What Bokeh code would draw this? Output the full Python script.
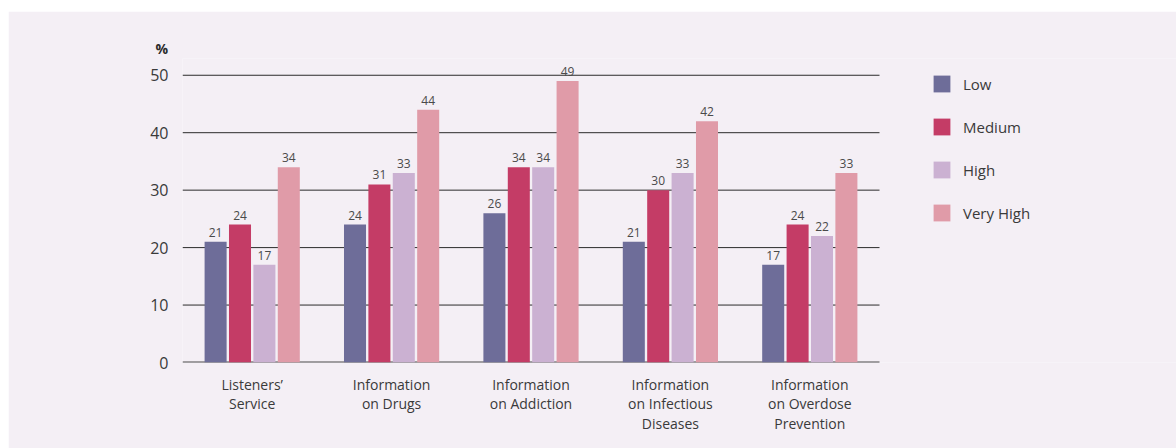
from bokeh.plotting import figure
from bokeh.models import (ColumnDataSource, Range1d, FixedTicker, Legend,
                          LegendItem, LabelSet)
from bokeh.core.properties import value
from bokeh.embed import file_html
from bokeh.resources import INLINE

# Services and the share of respondents (%) by level
categories = ["Listeners’\nService", "Information\non Drugs", "Information\non Addiction",
              "Information\non Infectious\nDiseases", "Information\non Overdose\nPrevention"]
levels = ["Low", "Medium", "High", "Very High"]
low = [21, 24, 26, 21, 17]
medium = [24, 31, 34, 30, 24]
high = [17, 33, 34, 33, 22]
very_high = [34, 44, 49, 42, 33]
y_ticks = [0, 10, 20, 30, 40, 50]

series = [low, medium, high, very_high]
colors = ["#6e6d99", "#c43c66", "#cbb1d2", "#e09ba8"]
offsets = [-0.2625, -0.0875, 0.0875, 0.2625]
bar_w = 0.158

FONT = "Open Sans"
BG = "#f4eff5"
TXT = "#3a3a3a"

n = len(categories)
px_per_cat = 139.4
frame_w = 994
frame_h = 304
px_per_unit = 5.745

p = figure(frame_width=frame_w, frame_height=frame_h,
           min_border_left=174, min_border_right=0,
           min_border_top=47, min_border_bottom=86,
           x_range=Range1d(0, frame_w / px_per_cat),
           y_range=Range1d(0, frame_h / px_per_unit),
           output_backend="svg", toolbar_location=None,
           background_fill_color=BG, border_fill_color=BG,
           outline_line_color=None, margin=(11, 0, 0, 8),
           title="%")

# "%" unit marker above the value axis
p.title.align = "left"
p.title.offset = -27
p.title.standoff = 2
p.title.text_font = FONT
p.title.text_font_size = "14px"
p.title.text_font_style = "bold"
p.title.text_color = "#2b2b2b"

# horizontal rules across the category area only
grid_y = [t for t in y_ticks if t > 0]
p.segment(x0=[0] * len(grid_y), x1=[n] * len(grid_y), y0=grid_y, y1=grid_y,
          line_color="#2b2b2b", line_width=1)
p.segment(x0=[0], x1=[n], y0=[0], y1=[0], line_color="#4a4a4a", line_width=2)

centers = [i + 0.5 for i in range(n)]
items = []
for name, vals, col, off in zip(levels, series, colors, offsets):
    src = ColumnDataSource(dict(x=[c + off for c in centers], top=vals,
                                lab=[str(v) for v in vals]))
    r = p.vbar(x="x", top="top", bottom=0, width=bar_w, source=src,
               fill_color=col, line_color=None)
    p.add_layout(LabelSet(x="x", y="top", text="lab", source=src,
                          text_align="center", text_baseline="alphabetic",
                          y_offset=5, text_font=value(FONT),
                          text_font_size=value("12px"),
                          text_color=value("#4a4a4a")))
    items.append(LegendItem(label=name, renderers=[r]))

# axes
p.xaxis.ticker = FixedTicker(ticks=centers)
p.xaxis.major_label_overrides = {c: lab for c, lab in zip(centers, categories)}
p.xaxis.major_tick_line_color = None
p.xaxis.minor_tick_line_color = None
p.xaxis.axis_line_color = None
p.xaxis.major_label_text_font = FONT
p.xaxis.major_label_text_font_size = "14px"
p.xaxis.major_label_text_color = TXT
p.xaxis.major_label_text_line_height = 1.03
p.xaxis.major_label_standoff = 6

p.yaxis.ticker = FixedTicker(ticks=y_ticks)
p.yaxis.major_tick_line_color = None
p.yaxis.minor_tick_line_color = None
p.yaxis.axis_line_color = None
p.yaxis.major_label_text_font = FONT
p.yaxis.major_label_text_font_size = "16px"
p.yaxis.major_label_text_color = TXT
p.yaxis.major_label_standoff = 8

p.xgrid.grid_line_color = None
p.ygrid.grid_line_color = None

legend = Legend(items=items, location=(749, 139), orientation="vertical",
                glyph_width=21, glyph_height=21, spacing=22, label_standoff=11,
                label_text_font=FONT, label_text_font_size="15px",
                label_text_color=TXT, padding=0, margin=0,
                border_line_color=None, background_fill_alpha=0)
p.add_layout(legend)

open("out.html", "w").write(file_html(p, INLINE))
